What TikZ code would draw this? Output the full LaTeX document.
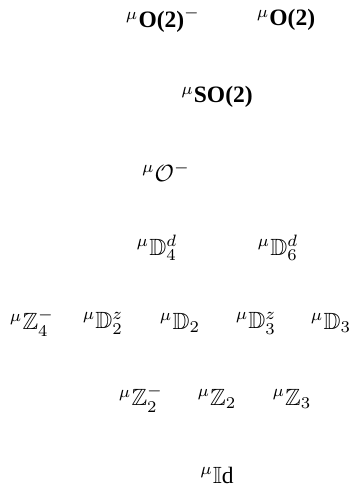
\documentclass[tikz,border=0pt]{standalone}
\usepackage{amssymb}
\usepackage[no-math]{fontspec}
\setmainfont{Liberation Serif}[BoldFont={Liberation Serif Bold}]
\begin{document}
\begin{tikzpicture}[x=0.4257pt,y=-0.4257pt, lab/.style={inner sep=0pt}]
\useasboundingbox (0,0) rectangle (350,485);
\node[lab] (O2m) at (163,20) {${}^{\mu}\textbf{O(2)}^{-}$};
\node[lab] (O2) at (286,20) {${}^{\mu}\textbf{O(2)}$};
\node[lab] (SO2) at (217,97) {${}^{\mu}\textbf{SO(2)}$};
\node[lab] (Om) at (166,172) {${}^{\mu}\mathcal{O}^{-}$};
\node[lab] (D4d) at (157,248) {${}^{\mu}\mathbb{D}_4^d$};
\node[lab] (D6d) at (278,248) {${}^{\mu}\mathbb{D}_6^d$};
\node[lab] (Z4m) at (32,323) {${}^{\mu}\mathbb{Z}_4^-$};
\node[lab] (D2z) at (103,323) {${}^{\mu}\mathbb{D}_2^z$};
\node[lab] (D2) at (180,323) {${}^{\mu}\mathbb{D}_2$};
\node[lab] (D3z) at (256,323) {${}^{\mu}\mathbb{D}_3^z$};
\node[lab] (D3) at (331,323) {${}^{\mu}\mathbb{D}_3$};
\node[lab] (Z2m) at (141,399) {${}^{\mu}\mathbb{Z}_2^-$};
\node[lab] (Z2) at (217,399) {${}^{\mu}\mathbb{Z}_2$};
\node[lab] (Z3) at (292,399) {${}^{\mu}\mathbb{Z}_3$};
\node[lab] (Id) at (217,475) {${}^{\mu}\mathbb{I}\textrm{d}$};
\end{tikzpicture}
\end{document}
